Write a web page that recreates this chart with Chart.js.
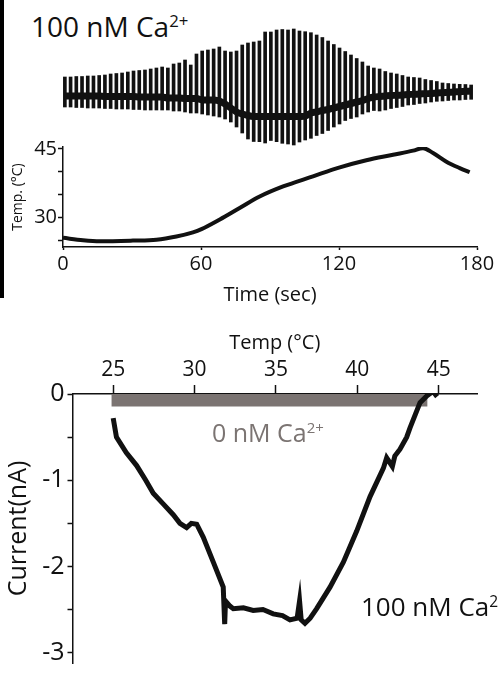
<!DOCTYPE html>
<html>
<head>
<meta charset="utf-8">
<script src="https://cdn.jsdelivr.net/npm/chart.js@4.4.1/dist/chart.umd.min.js"></script>
<style>
  html, body { margin: 0; padding: 0; background: #fff; }
  body { width: 499px; height: 681px; position: relative; overflow: hidden; font-family: "Open Sans", sans-serif; }
  .box { position: absolute; }
  .lbl { position: absolute; line-height: 1; white-space: nowrap; }
  .lbl sup { font-size: 60%; vertical-align: 0.6em; line-height: 0; }
</style>
</head>
<body>
<div class="box" style="left:0;top:0;width:4px;height:298px;background:#000"></div>
<div class="lbl" style="left:31px;top:12px;font-size:28px;color:#111">100 nM Ca<sup>2+</sup></div>
<div class="box" style="left:62px;top:0;width:412px;height:150px"><canvas id="trace" width="412" height="150"></canvas></div>
<div class="box" style="left:0;top:130px;width:499px;height:180px"><canvas id="tempTime" width="499" height="180"></canvas></div>
<div class="box" style="left:0;top:320px;width:499px;height:361px"><canvas id="ivTemp" width="499" height="361"></canvas></div>
<div class="lbl" style="left:212px;top:420px;font-size:25px;color:#7b7472">0 nM Ca<sup>2+</sup></div>
<div class="lbl" style="left:361px;top:593px;font-size:26px;color:#111">100 nM Ca<sup>2+</sup></div>

<script>
// top trace: ramp sweeps, envelope of each sweep + holding current (a.u.)
const oscHigh = [19,19,19.5,19.5,20,20,20.5,21,22,22.5,23,24,25,25.5,26,27,28,29,28,32,33,36,31,42,45,46,47,49,45,44,45,51,53,54,55,64,64,66,66.5,66,67,65,64.3,63.3,61,58.5,55,51.5,48,44.5,41,37.5,34,30,28,27,24.5,23,22,20.5,19,18.5,18,16.5,15.5,14.5,13,12.5,12,11.7,11.5,11];
const oscLow = [-11,-11,-11.5,-11.5,-12,-12,-12,-12.5,-12.5,-13,-13,-13,-13.5,-13.5,-14,-14,-14,-14,-14,-15,-15,-16,-17,-17,-18,-19,-20,-21,-23,-26,-31,-37,-43,-45.5,-45.7,-47,-44.5,-45.7,-47.3,-48,-49,-46,-44,-42.3,-39.5,-37.5,-34.5,-31,-28,-24.5,-22.5,-21,-18,-16,-14.5,-15,-14,-12.5,-11.5,-10.5,-9,-8.5,-7.5,-7,-6,-5.3,-5,-4.5,-4,-4,-3.5,-3.3];
const holding = [0,0,0,0,0,0,0,-0.5,-0.5,-0.5,-0.5,-0.5,-0.5,-1,-1,-1,-1,-1,-2,-2,-2,-2.5,-2.5,-2.5,-4,-4,-4,-5,-8,-12,-16,-18,-19.5,-20.5,-20.5,-20.5,-20.5,-20.5,-20.5,-20.5,-20.5,-20.5,-20,-17,-16,-14.5,-13.5,-12,-10.5,-9,-7.5,-6,-4.5,-2.5,-1,-0.5,0,0.5,0.7,1,1.5,1.7,2,2.3,2.5,3,3.3,3.7,4,4.3,4.7,5];
const sweeps = oscHigh.map((_, i) => i + 1);

// temperature vs time
const timeSec = [0, 8.7, 16, 30.4, 40.6, 49.3, 56.5, 60.2, 68.2, 76.8, 85.5, 95.7, 108.7, 120, 131.9, 143.5, 152.2, 156.5, 160.9, 166.7, 172.5, 176.8];
const tempC = [25.6, 25.07, 24.85, 25.0, 25.2, 25.9, 26.8, 27.5, 29.6, 32.1, 34.6, 36.8, 39.0, 40.9, 42.5, 43.7, 44.6, 45.15, 44.1, 42.2, 40.8, 39.9];
const timeTicks = [0, 60, 120, 180];
const tempTicks = [25, 30, 35, 40, 45];
const tempLabels = [30, 45];

// current vs temperature
const caTemp = [25.0,25.2,25.8,26.44,27.0,27.46,28.1,28.69,29.1,29.51,29.8,30.13,30.53,31.15,31.76,31.85,31.9,32.17,32.38,33.0,33.6,34.2,34.83,35.4,35.86,36.3,36.45,36.55,36.78,37.1,37.5,38.32,39.14,39.96,40.78,41.6,41.8,42.15,42.3,42.62,43.03,43.24,43.85,44.28,44.65,44.9];
const caCurrent = [-0.28,-0.5,-0.68,-0.83,-1.0,-1.15,-1.28,-1.4,-1.5,-1.55,-1.5,-1.51,-1.66,-1.95,-2.24,-2.67,-2.4,-2.46,-2.49,-2.48,-2.51,-2.5,-2.55,-2.57,-2.62,-2.6,-2.4,-2.62,-2.66,-2.6,-2.49,-2.24,-1.95,-1.59,-1.19,-0.86,-0.74,-0.84,-0.72,-0.64,-0.5,-0.39,-0.1,-0.02,0.03,-0.03];
const zeroTemp = [24.9, 30, 35, 40, 44.3];
const zeroCurrent = [-0.07, -0.07, -0.07, -0.07, -0.07];
const ivTempTicks = [25, 30, 35, 40, 45];
const currentTicks = [0, -0.5, -1, -1.5, -2, -2.5, -3];

const FONT = '"Open Sans", sans-serif';
const INK = '#111';
const GREY = '#7b7472';

const base = {
  responsive: false,
  animation: false,
  devicePixelRatio: 1,
  plugins: { legend: { display: false }, tooltip: { enabled: false } }
};

new Chart(document.getElementById('trace'), {
  type: 'bar',
  data: {
    labels: sweeps,
    datasets: [
      { type: 'line', data: holding, borderColor: INK, borderWidth: 7, pointRadius: 0, tension: 0.3 },
      { type: 'bar', data: oscHigh.map((h, i) => [oscLow[i], h]), backgroundColor: INK, barThickness: 3 }
    ]
  },
  options: {
    ...base,
    layout: { padding: 0 },
    scales: {
      x: { display: false, offset: true },
      y: { display: false, min: -54, max: 96 }
    }
  }
});

new Chart(document.getElementById('tempTime'), {
  type: 'line',
  data: {
    datasets: [{
      data: timeSec.map((t, i) => ({ x: t, y: tempC[i] })),
      borderColor: INK, borderWidth: 4, pointRadius: 0, cubicInterpolationMode: 'monotone'
    }]
  },
  options: {
    ...base,
    layout: { padding: { top: 17, right: 22, left: 0, bottom: 0 } },
    scales: {
      x: {
        type: 'linear', min: 0, max: 180,
        afterFit: s => { s.height = 63; },
        afterBuildTicks: s => { s.ticks = timeTicks.map(v => ({ value: v })); },
        grid: { drawOnChartArea: false, tickLength: 3, color: INK, tickWidth: 1.5 },
        border: { color: INK, width: 1.5 },
        ticks: { color: INK, font: { family: FONT, size: 20 }, padding: 2, maxRotation: 0, autoSkip: false, callback: v => String(v) },
        title: { display: true, text: 'Time (sec)', color: INK, font: { family: FONT, size: 20 }, padding: { top: 0, bottom: 3 } }
      },
      y: {
        min: 23.6, max: 45.4,
        afterFit: s => { s.width = 63; },
        afterBuildTicks: s => { s.ticks = tempTicks.map(v => ({ value: v })); },
        grid: { drawOnChartArea: false, tickLength: 5, color: INK, tickWidth: 1.5 },
        border: { color: INK, width: 1.5 },
        ticks: { color: INK, font: { family: FONT, size: 20 }, padding: 1, autoSkip: false, callback: v => tempLabels.includes(v) ? String(v) : '' },
        title: { display: true, text: 'Temp. (°C)', color: INK, font: { family: FONT, size: 14 }, padding: { top: 10, bottom: 0 } }
      }
    }
  }
});

new Chart(document.getElementById('ivTemp'), {
  type: 'line',
  data: {
    datasets: [
      { data: caTemp.map((t, i) => ({ x: t, y: caCurrent[i] })), borderColor: INK, borderWidth: 5, pointRadius: 0, tension: 0 },
      { data: zeroTemp.map((t, i) => ({ x: t, y: zeroCurrent[i] })), borderColor: GREY, borderWidth: 13, pointRadius: 0, tension: 0 }
    ]
  },
  options: {
    ...base,
    layout: { padding: { top: 0, right: 22, left: 0, bottom: 0 } },
    scales: {
      x: {
        type: 'linear', position: 'top', min: 22.5, max: 47.35,
        afterFit: s => { s.height = 74; },
        afterBuildTicks: s => { s.ticks = ivTempTicks.map(v => ({ value: v })); },
        grid: { drawOnChartArea: false, tickLength: 9, color: INK, tickWidth: 1.5 },
        border: { color: INK, width: 1.5 },
        ticks: { color: INK, font: { family: FONT, size: 21 }, padding: 2, maxRotation: 0, autoSkip: false, callback: v => String(v) },
        title: { display: true, text: 'Temp (°C)', color: INK, font: { family: FONT, size: 20 }, padding: { top: 11, bottom: 0 } }
      },
      y: {
        min: -3.12, max: 0,
        afterFit: s => { s.width = 72.5; },
        afterBuildTicks: s => { s.ticks = currentTicks.map(v => ({ value: v })); },
        grid: { drawOnChartArea: false, tickLength: 5, color: INK, tickWidth: 1.5 },
        border: { color: INK, width: 1.5 },
        ticks: { color: INK, font: { family: FONT, size: 25 }, padding: 3, autoSkip: false, callback: v => Number.isInteger(v) ? String(v) : '' },
        title: { display: true, text: 'Current(nA)', color: INK, font: { family: FONT, size: 25 }, padding: { top: 4, bottom: 0 } }
      }
    }
  }
});
</script>
</body>
</html>
